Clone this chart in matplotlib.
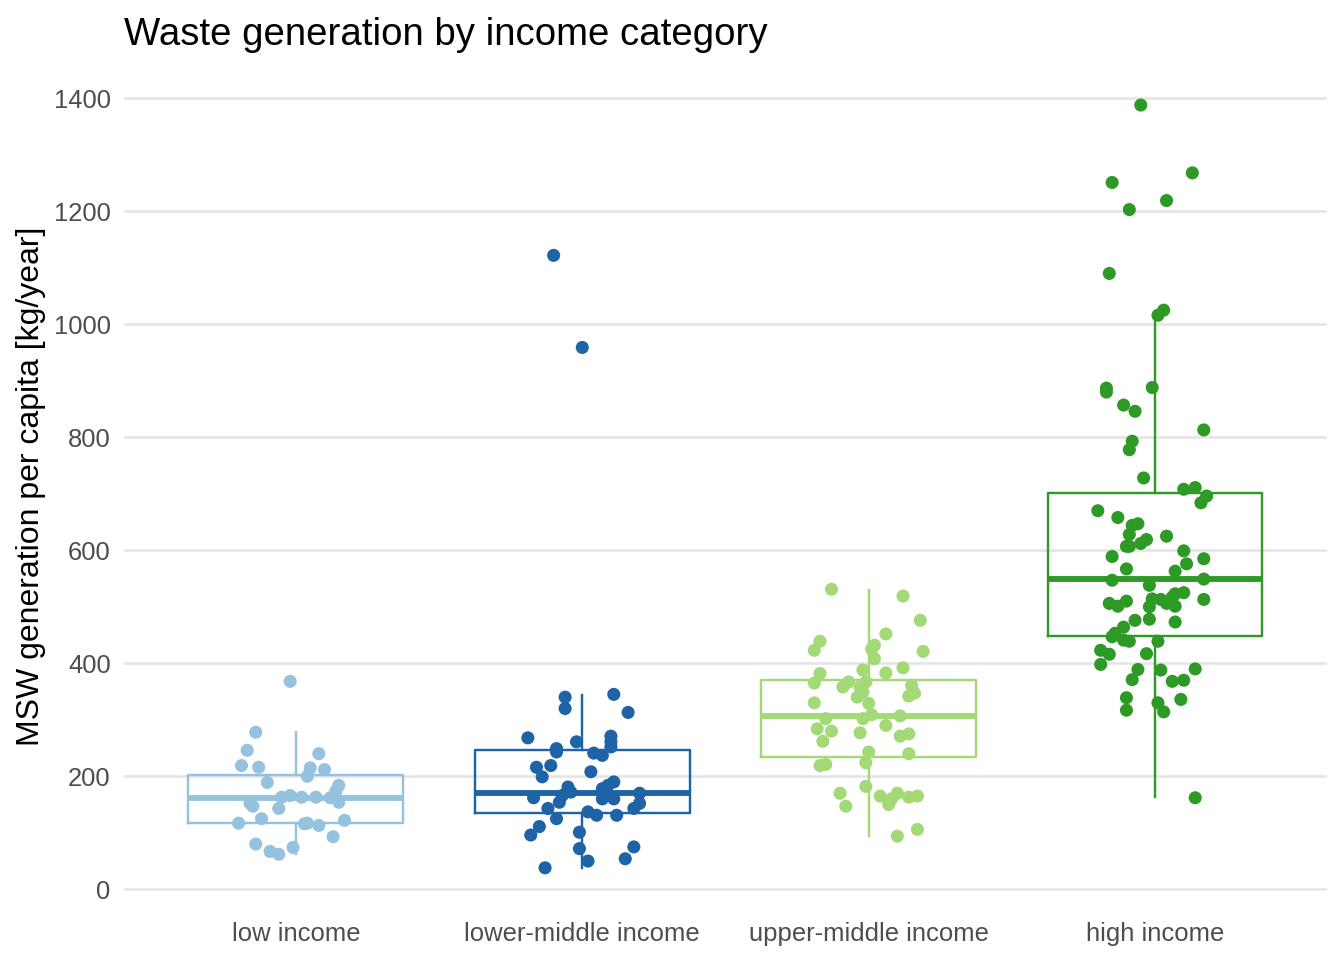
import numpy as np
import matplotlib.pyplot as plt

plt.rcParams.update({
    "font.family": ["Liberation Sans", "DejaVu Sans"],
    "figure.dpi": 192,
})

CATEGORIES = ["low income", "lower-middle income", "upper-middle income", "high income"]
COLORS = ["#95C2DE", "#1D63A6", "#A3D977", "#2E9A26"]

# per-country waste (kg/year) and horizontal jitter (category units)
low_vals = [368, 278, 246, 240, 219, 216, 215, 212, 200, 189, 184, 174, 163, 166, 163, 163,
            162, 154, 152, 147, 143, 125, 117, 116, 117, 113, 122, 93, 80, 67, 62, 74]
low_jit = [-0.02, -0.14, -0.17, 0.08, -0.19, -0.13, 0.05, 0.10, 0.04, -0.10, 0.15, 0.14, -0.05,
           -0.02, 0.02, 0.07, 0.12, 0.15, -0.16, -0.15, -0.06, -0.12, -0.20, 0.03, 0.04, 0.08,
           0.17, 0.13, -0.14, -0.09, -0.06, -0.01]

lm_vals = [340, 320, 345, 313, 268, 261, 271, 261, 252, 249, 243, 241, 237, 216, 219, 199, 208,
           181, 190, 184, 178, 170, 172, 166, 162, 160, 160, 152, 154, 143, 143, 137, 131, 131,
           125, 111, 96, 101, 72, 75, 54, 50, 38, 1122, 959]
lm_jit = [-0.06, -0.06, 0.11, 0.16, -0.19, -0.02, 0.10, 0.10, 0.10, -0.09, -0.09, 0.04, 0.07,
          -0.16, -0.11, -0.14, 0.03, -0.05, 0.11, 0.09, 0.07, 0.20, -0.04, -0.07, -0.17, 0.07,
          0.11, 0.20, -0.08, -0.12, 0.18, 0.02, 0.05, 0.12, -0.09, -0.15, -0.18, -0.01, -0.01,
          0.18, 0.15, 0.02, -0.13, -0.10, 0.00]

um_vals = [531, 519, 476, 452, 439, 423, 432, 425, 421, 408, 392, 388, 383, 382, 365, 367, 358,
           367, 358, 349, 361, 347, 342, 340, 329, 330, 309, 302, 302, 307, 284, 280, 277, 290,
           262, 271, 275, 243, 240, 224, 219, 221, 182, 170, 147, 165, 170, 150, 160, 163, 165,
           94, 106]
um_jit = [-0.13, 0.12, 0.18, 0.06, -0.17, -0.19, 0.02, 0.01, 0.19, 0.02, 0.12, -0.02, 0.06,
          -0.17, -0.19, -0.07, -0.09, -0.01, -0.03, -0.02, 0.15, 0.16, 0.14, -0.04, 0.00, -0.19,
          0.01, -0.02, -0.15, 0.11, -0.18, -0.13, -0.03, 0.06, -0.16, 0.11, 0.14, 0.00, 0.14,
          -0.01, -0.17, -0.15, -0.01, -0.10, -0.08, 0.04, 0.10, 0.07, 0.08, 0.14, 0.17, 0.10, 0.17]

high_vals = [1388, 1268, 1251, 1219, 1203, 1090, 1025, 1016, 887, 880, 888, 857, 846, 813, 793,
             778, 728, 708, 711, 696, 684, 670, 658, 644, 647, 628, 619, 612, 607, 607, 625, 599,
             589, 585, 576, 567, 563, 547, 549, 538, 506, 501, 510, 514, 513, 506, 517, 523, 525,
             501, 500, 513, 476, 478, 473, 464, 447, 453, 441, 439, 439, 423, 416, 417, 398, 389,
             371, 388, 390, 368, 370, 339, 317, 330, 314, 336, 162]
high_jit = [-0.05, 0.13, -0.15, 0.04, -0.09, -0.16, 0.03, 0.01, -0.17, -0.17, -0.01, -0.11,
            -0.07, 0.17, -0.08, -0.09, -0.04, 0.10, 0.14, 0.18, 0.16, -0.20, -0.13, -0.08, -0.06,
            -0.09, -0.03, -0.05, -0.10, -0.09, 0.04, 0.10, -0.15, 0.17, 0.11, -0.10, 0.07, -0.15,
            0.17, -0.02, -0.16, -0.13, -0.10, -0.01, 0.02, 0.04, 0.06, 0.07, 0.10, 0.07, -0.02,
            0.17, -0.07, -0.02, 0.07, -0.11, -0.15, -0.14, -0.11, -0.09, 0.01, -0.19, -0.16,
            -0.03, -0.19, -0.06, -0.08, 0.02, 0.14, 0.06, 0.10, -0.10, -0.10, 0.01, 0.03, 0.09,
            0.14]

# box summaries as drawn (kg/year)
q1 = [118, 135, 235, 448]
med = [162, 171, 306, 549]
q3 = [202, 246, 370, 702]
whis_lo = [62, 38, 94, 163]
whis_hi = [278, 343, 530, 1020]

values = [low_vals, lm_vals, um_vals, high_vals]
jitters = [low_jit, lm_jit, um_jit, high_jit]

fig = plt.figure(figsize=(7, 5))
ax = fig.add_axes([0.0923, 0.056, 0.895, 0.874])

for i, c in enumerate(COLORS):
    pos = i + 1
    stats = [{"q1": q1[i], "med": med[i], "q3": q3[i],
              "whislo": whis_lo[i], "whishi": whis_hi[i], "fliers": []}]
    ax.bxp(stats, positions=[pos], widths=0.75, showfliers=False, showcaps=False,
           boxprops=dict(color=c, lw=0.9),
           whiskerprops=dict(color=c, lw=0.9),
           medianprops=dict(color=c, lw=2.2, solid_capstyle="butt"),
           zorder=2)
    ax.scatter(pos + np.asarray(jitters[i]), values[i], s=24, color=c,
               edgecolors="none", zorder=3)

ax.set_xlim(0.4, 4.6)
ax.set_ylim(-30, 1455)
ax.set_yticks([0, 200, 400, 600, 800, 1000, 1200, 1400])
ax.set_xticks([1, 2, 3, 4])
ax.set_xticklabels(CATEGORIES)
ax.tick_params(length=0, labelsize=9.6, labelcolor="#4D4D4D", pad=5)
ax.tick_params(axis="x", pad=6)
for s in ax.spines.values():
    s.set_visible(False)
ax.grid(axis="y", color="#E5E5E5", lw=1.0)
ax.set_axisbelow(True)
ax.set_ylabel("MSW generation per capita [kg/year]", fontsize=12, labelpad=3)
ax.set_title("Waste generation by income category", loc="left", fontsize=14.4, pad=8.5)

fig.savefig("out.png", dpi=192)
